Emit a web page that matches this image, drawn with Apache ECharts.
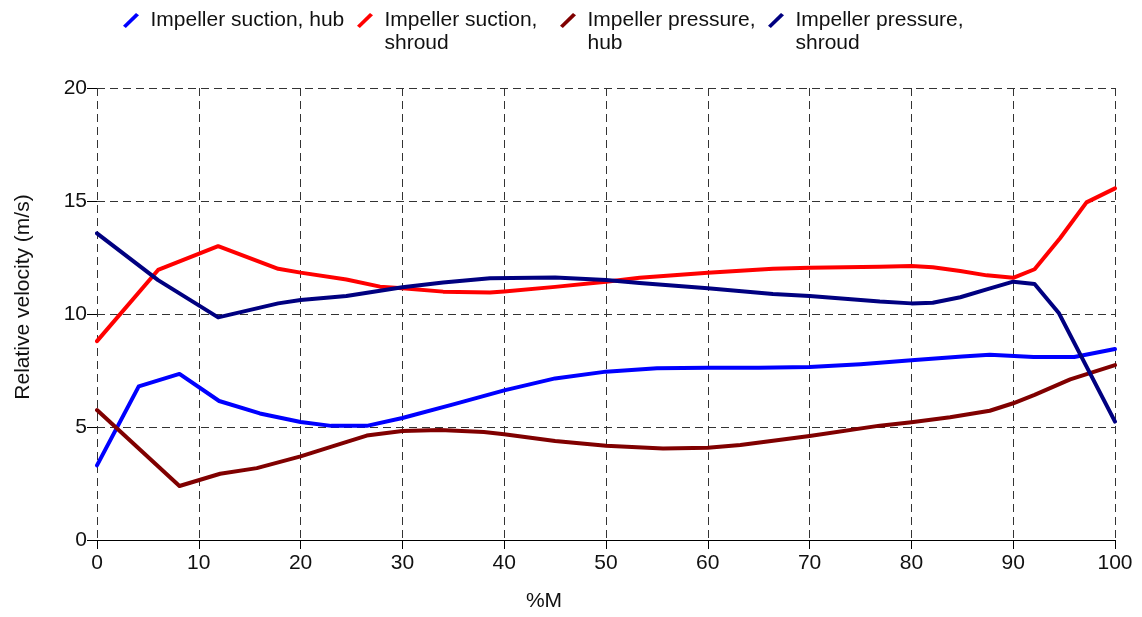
<!DOCTYPE html>
<html>
<head>
<meta charset="utf-8">
<script src="https://cdn.jsdelivr.net/npm/echarts@6/dist/echarts.min.js"></script>
<style>html,body{margin:0;padding:0;background:#fff;}#chart{width:1142px;height:617px;}</style>
</head>
<body>
<div id="chart"></div>
<script>
const seriesNames = ['Impeller suction, hub', 'Impeller suction, shroud', 'Impeller pressure, hub', 'Impeller pressure, shroud'];
const legendLabels = [' \nImpeller suction, hub\n ', ' \nImpeller suction,\nshroud', ' \nImpeller pressure,\nhub', ' \nImpeller pressure,\nshroud'];
const seriesColors = ['#0000ff', '#ff0000', '#800000', '#000080'];

const suctionHubX = [0, 4.1, 8.1, 12, 16, 20, 23, 26.5, 30, 35, 40, 45, 50, 55, 60, 65, 70, 75, 80, 85, 87.7, 92, 96, 100];
const suctionHubY = [3.3, 6.8, 7.35, 6.15, 5.6, 5.22, 5.05, 5.05, 5.4, 6.0, 6.62, 7.15, 7.45, 7.6, 7.62, 7.62, 7.65, 7.78, 7.95, 8.12, 8.2, 8.1, 8.1, 8.45];

const suctionShroudX = [0, 6.0, 11.9, 17.8, 20, 24.5, 27.8, 30, 34, 38.6, 40, 45, 50, 53.3, 60, 66.4, 70, 76.9, 80, 82.1, 84.8, 87.4, 90, 92.1, 94.6, 97.2, 100];
const suctionShroudY = [8.8, 11.95, 13.0, 12.0, 11.83, 11.53, 11.21, 11.14, 10.99, 10.95, 11.0, 11.2, 11.43, 11.6, 11.83, 12.0, 12.05, 12.09, 12.12, 12.07, 11.9, 11.71, 11.6, 11.98, 13.35, 14.94, 15.56];

const pressureHubX = [0, 8.1, 12.1, 15.7, 20, 23.2, 26.5, 30, 33.7, 38, 40, 45, 50, 55.6, 60, 63.2, 70, 76.9, 80, 83.8, 87.7, 90, 92.1, 95.6, 100];
const pressureHubY = [5.75, 2.39, 2.93, 3.18, 3.7, 4.15, 4.62, 4.82, 4.87, 4.78, 4.68, 4.38, 4.17, 4.05, 4.08, 4.2, 4.6, 5.06, 5.21, 5.43, 5.72, 6.05, 6.42, 7.11, 7.74];

const pressureShroudX = [0, 6.0, 11.9, 17.8, 20, 24.5, 30, 34, 38.6, 45, 50, 53.3, 60, 66.4, 70, 76.9, 80, 82.1, 84.8, 87.4, 90, 92.1, 94.5, 100];
const pressureShroudY = [13.57, 11.5, 9.85, 10.47, 10.62, 10.8, 11.18, 11.39, 11.58, 11.62, 11.5, 11.37, 11.14, 10.88, 10.8, 10.55, 10.47, 10.5, 10.74, 11.09, 11.43, 11.33, 10.03, 5.24];

const xTicks = [0, 10, 20, 30, 40, 50, 60, 70, 80, 90, 100];
const yTicks = [0, 5, 10, 15, 20];
const xAxisTitle = '%M';
const yAxisTitle = 'Relative velocity (m/s)';

const FONT = "'Liberation Sans', Arial, sans-serif";
const zip = (xs, ys) => xs.map((x, i) => [x, ys[i]]);
const seriesData = [
  zip(suctionHubX, suctionHubY),
  zip(suctionShroudX, suctionShroudY),
  zip(pressureHubX, pressureHubY),
  zip(pressureShroudX, pressureShroudY)
];

const iconPath = 'path://M0.2,12.6 L13.0,0.1 L16.0,2.4 L3.0,14.9 Z';
const legendLefts = [123, 357, 560, 768];

const chart = echarts.init(document.getElementById('chart'), null, {renderer: 'canvas'});
const gridLine = {show: true, lineStyle: {color: '#333', width: 1, type: [8, 5]}};

chart.setOption({
  animation: false,
  backgroundColor: '#fff',
  textStyle: {fontFamily: FONT},
  legend: seriesNames.map((n, i) => ({
    left: legendLefts[i],
    top: -14,
    padding: 0,
    itemWidth: 17,
    itemHeight: 15,
    icon: iconPath,
    data: [n],
    formatter: () => legendLabels[i],
    textStyle: {fontSize: 21, color: '#111', lineHeight: 23, padding: [0, 0, 0, 6], fontFamily: FONT}
  })),
  grid: {left: 97, right: 27, top: 88, bottom: 77, containLabel: false},
  xAxis: {
    type: 'value', min: 0, max: 100, interval: 10,
    name: xAxisTitle, nameLocation: 'middle', nameGap: 51,
    nameTextStyle: {fontSize: 21, color: '#111', padding: [0, 124, 0, 0], fontFamily: FONT},
    axisLine: {show: true, onZero: false, lineStyle: {color: '#000', width: 1}},
    axisTick: {show: true, length: 9, lineStyle: {color: '#000'}},
    axisLabel: {fontSize: 21, color: '#111', margin: 13, fontFamily: FONT,
      formatter: v => xTicks.includes(v) ? String(v) : ''},
    splitLine: gridLine
  },
  yAxis: {
    type: 'value', min: 0, max: 20, interval: 5,
    name: yAxisTitle, nameLocation: 'middle', nameGap: 63,
    nameTextStyle: {fontSize: 21, color: '#111', padding: [0, 0, 0, 34], fontFamily: FONT},
    axisLine: {show: false},
    axisTick: {show: true, length: 10, lineStyle: {color: '#000'}},
    axisLabel: {fontSize: 21, color: '#111', margin: 10, fontFamily: FONT,
      formatter: v => yTicks.includes(v) ? String(v) : ''},
    splitLine: gridLine
  },
  series: seriesNames.map((n, i) => ({
    name: n,
    type: 'line',
    data: seriesData[i],
    showSymbol: false,
    symbol: 'none',
    color: seriesColors[i],
    lineStyle: {color: seriesColors[i], width: 4, join: 'round', cap: 'round'},
    z: 3 + i
  }))
});
</script>
</body>
</html>
